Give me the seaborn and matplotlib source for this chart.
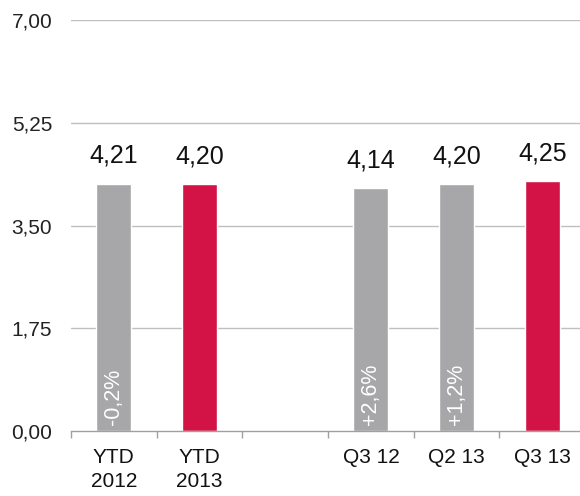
import numpy as np
import pandas as pd
import matplotlib
matplotlib.use("Agg")
import matplotlib.pyplot as plt
import seaborn as sns
from matplotlib.ticker import FixedLocator

# chart data
categories = ["YTD\n2012", "YTD\n2013", "", "Q3 12", "Q2 13", "Q3 13"]
values = [4.21, 4.20, np.nan, 4.14, 4.20, 4.25]
groups = ["prev", "cur", "prev", "prev", "prev", "cur"]
changes = ["-0,2%", "", "", "+2,6%", "+1,2%", ""]
y_ticks = [0.0, 1.75, 3.5, 5.25, 7.0]

GREY = "#A7A7A9"
RED = "#D31245"

sns.set_theme(style="white")
plt.rcParams["font.family"] = ["Liberation Sans", "DejaVu Sans"]

df = pd.DataFrame({"cat": categories, "val": values, "grp": groups})

fig = plt.figure(figsize=(5.8, 4.96), dpi=100)
ax = fig.add_axes([71 / 580, 65 / 496, 509 / 580, 411 / 496])

sns.barplot(data=df, x="cat", y="val", hue="grp", order=categories,
            palette={"prev": GREY, "cur": RED}, dodge=False, width=0.41,
            legend=False, ax=ax, saturation=1)

ax.set_xlim(-0.5, 5.44)
ax.set_ylim(0, 7)
ax.set_xlabel("")
ax.set_ylabel("")

# gridlines
for y in y_ticks[1:]:
    ax.axhline(y, color="#BFBFBF", lw=1, zorder=0)

ax.set_yticks(y_ticks)
ax.set_yticklabels([f"{t:.2f}".replace(".", ",") for t in y_ticks])
ax.tick_params(axis="y", length=0, pad=13.5, labelsize=15, labelcolor="#222222")

ax.set_xticks(range(len(categories)))
ax.set_xticklabels(categories, linespacing=1.35)
ax.tick_params(axis="x", which="major", length=0, pad=12, labelsize=15,
               labelcolor="#111111")
ax.xaxis.set_minor_locator(FixedLocator(np.arange(-0.5, 5.0, 1.0)))
ax.tick_params(axis="x", which="minor", bottom=True, length=5, width=1,
               color="#A0A0A0", direction="out")

for s in ["top", "right", "left"]:
    ax.spines[s].set_visible(False)
ax.spines["bottom"].set_color("#A0A0A0")
ax.spines["bottom"].set_linewidth(1)

# value labels above bars and change labels inside bars
for i, (v, c) in enumerate(zip(values, changes)):
    if np.isnan(v):
        continue
    ax.text(i, v + 0.27, f"{v:.2f}".replace(".", ","), ha="center", va="bottom",
            fontsize=18, color="#111111")
    if c:
        ax.text(i, 0.1, c, rotation=90, ha="center", va="bottom",
                fontsize=15.5, color="white")

fig.savefig("out.png", dpi=100)
